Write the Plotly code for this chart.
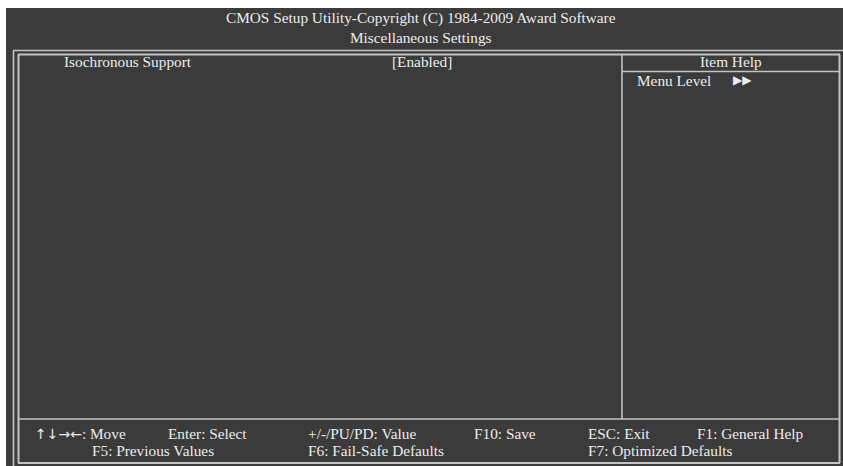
import plotly.graph_objects as go

W, H = 843, 466

# ---- text content ----
title_lines = ["CMOS Setup Utility-Copyright (C) 1984-2009 Award Software",
               "Miscellaneous Settings"]
item_names = ["Isochronous Support"]
item_values = ["[Enabled]"]
help_header = "Item Help"
help_lines = ["Menu Level"]
help_marks = ["\u25B6\u25B6"]
footer_row1 = ["<span style='font-family:DejaVu Sans;font-size:14px'>\u2191\u2193\u2192\u2190</span>: Move",
               "Enter: Select", "+/-/PU/PD: Value",
               "F10: Save", "ESC: Exit", "F1: General Help"]
footer_row2 = ["F5: Previous Values", "F6: Fail-Safe Defaults", "F7: Optimized Defaults"]

# ---- layout positions (pixels) ----
footer_row1_x = [33, 166, 306, 472, 586, 695]
footer_row2_x = [90, 306, 586]

BG = "#3b3b3b"
LINE = "#c4c4c4"
TXT = "#ececec"
FONT = "Liberation Serif"
FS = 15.3

fig = go.Figure()
fig.add_trace(go.Scatter(x=[0, W], y=[0, H], mode="markers",
                         marker=dict(opacity=0), hoverinfo="skip", showlegend=False))

shapes = []
# dark screen
shapes.append(dict(type="rect", x0=6, x1=W + 5, y0=8, y1=H + 5,
                   fillcolor=BG, line=dict(width=0), layer="below"))

def hl(x0, x1, y, w=1.6, c=LINE):
    shapes.append(dict(type="line", x0=x0, x1=x1, y0=y, y1=y, line=dict(color=c, width=w)))

def vl(x, y0, y1, w=1.6, c=LINE):
    shapes.append(dict(type="line", x0=x, x1=x, y0=y0, y1=y1, line=dict(color=c, width=w)))

# outer frame (extends beyond image on right/bottom)
hl(13, W + 5, 50.5)
vl(13.5, 50.5, H + 5)
# inner frame
hl(18, 840, 54.5, w=2)
vl(18.5, 54.5, 463, w=2)
vl(839.5, 54.5, 463, w=2)
hl(18, 840, 463, w=2)
# divider between item list and help
vl(622, 54.5, 419)
# help header separator
hl(622, 840, 71.5)
# footer separator
hl(18, 840, 419)

annotations = []

def txt(s, x, y, anchor="left", size=FS, color=TXT, family=FONT):
    annotations.append(dict(text=s, x=x, y=y, xref="x", yref="y", showarrow=False,
                            xanchor=anchor, yanchor="middle",
                            font=dict(family=family, size=size, color=color)))

txt(title_lines[0], 421, 18, anchor="center")
txt(title_lines[1], 421, 37, anchor="center")

for i, (n, v) in enumerate(zip(item_names, item_values)):
    txt(n, 62, 61.5 + 18 * i)
    txt(v, 422, 61.5 + 18 * i, anchor="center")

txt(help_header, 731, 61.5, anchor="center")
for i, (s, m) in enumerate(zip(help_lines, help_marks)):
    txt(s, 635, 80 + 18 * i)
    txt(m, 731, 79.5 + 18 * i, size=12, family="DejaVu Sans")

for s, x in zip(footer_row1, footer_row1_x):
    txt(s, x, 433)
for s, x in zip(footer_row2, footer_row2_x):
    txt(s, x, 450)

# clipped glyph at the very top
txt("g", 241, -3, anchor="center", size=17, color="#111111", family="Liberation Sans")

fig.update_layout(
    width=W, height=H, margin=dict(l=0, r=0, t=0, b=0),
    paper_bgcolor="white", plot_bgcolor="white",
    xaxis=dict(range=[0, W], visible=False, fixedrange=True),
    yaxis=dict(range=[H, 0], visible=False, fixedrange=True),
    shapes=shapes, annotations=annotations, showlegend=False,
)
fig.write_html("out.html", config={"displayModeBar": False},
               post_script="document.body.style.margin='0';document.body.style.overflow='hidden';")
